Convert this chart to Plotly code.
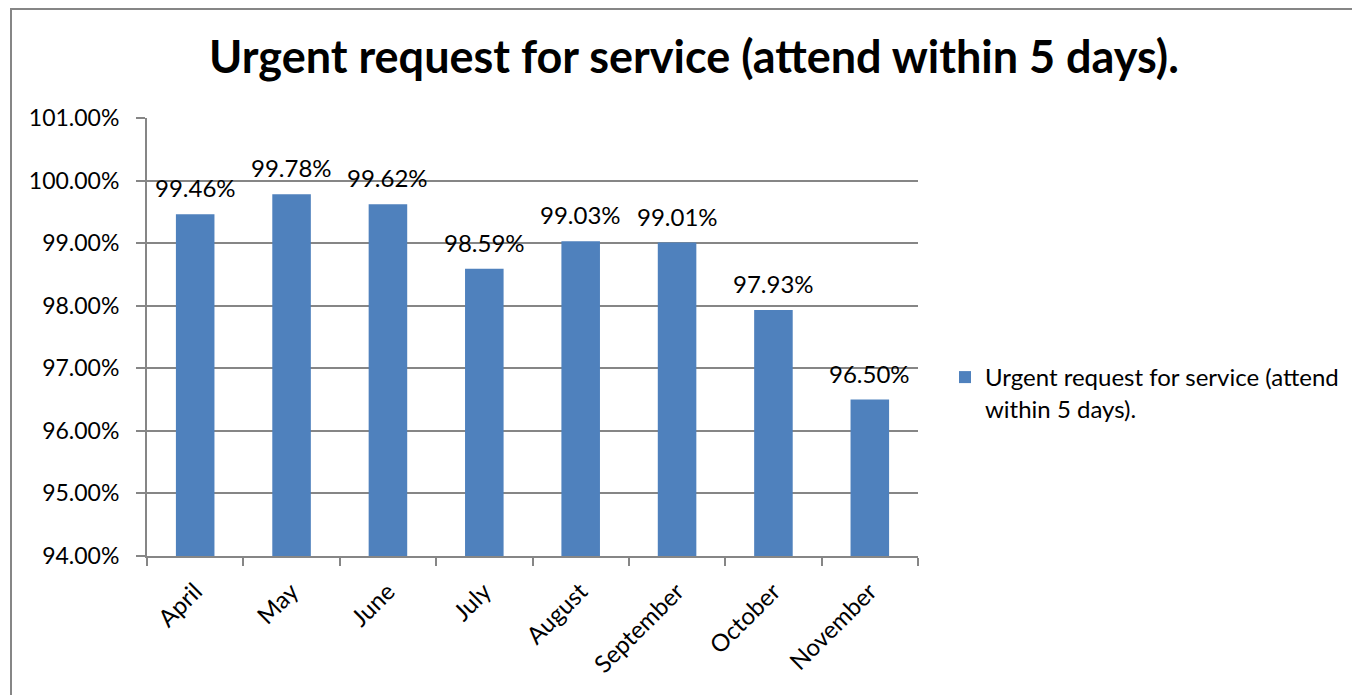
import plotly.graph_objects as go

months = ["April", "May", "June", "July", "August", "September", "October", "November"]
values = [99.46, 99.78, 99.62, 98.59, 99.03, 99.01, 97.93, 96.50]
y_ticks = [94, 95, 96, 97, 98, 99, 100, 101]
series_name = "Urgent request for service (attend within 5 days)."
title_text = "Urgent request for service (attend within 5 days)."

FONT = "Lato, 'Open Sans', sans-serif"
OFF = 8  # default page body margin
W, H = 1360 - OFF, 695 - OFF
L, R, T, B = 147 - OFF, 918 - OFF, 118 - OFF, 556 - OFF

def px_x(p):
    return (p - OFF - L) / (R - L)

def px_y(p):
    return (B - (p - OFF)) / (B - T)

fig = go.Figure()
fig.add_trace(go.Bar(
    x=months, y=values,
    name="Urgent request for service (attend<br>within 5 days).",
    marker=dict(color="#4F81BD", line=dict(width=0)),
    width=0.4,
    showlegend=True,
))

for m, v in zip(months, values):
    fig.add_annotation(x=m, y=v, text=f"{v:.2f}%", showarrow=False,
                       yanchor="bottom", yshift=10,
                       font=dict(family=FONT, size=24, color="#000000"))

fig.update_layout(
    width=W, height=H,
    margin=dict(l=L, r=W - R, t=T, b=H - B),
    paper_bgcolor="white", plot_bgcolor="white",
    font=dict(family=FONT, size=22, color="#000000"),
    title=dict(text="<b>" + title_text + "</b>", x=(694 - OFF) / W, xref="container", xanchor="center",
               y=1 - (57 - OFF) / H, yref="container", yanchor="middle",
               font=dict(family=FONT, size=45, color="#000000")),
    showlegend=True,
    legend=dict(x=px_x(945), xanchor="left", y=px_y(393), yanchor="middle",
                font=dict(family=FONT, size=24, color="#000000"), itemwidth=30,
                valign="top", bgcolor="rgba(0,0,0,0)", borderwidth=0),
    xaxis=dict(
        type="category", tickson="boundaries", ticks="outside", ticklen=8, tickcolor="#868686",
        tickwidth=2, ticklabelstandoff=10,
        showline=True, linecolor="#868686", linewidth=2, showgrid=False,
        tickangle=-45, tickfont=dict(family=FONT, size=24, color="#000000"),
    ),
    yaxis=dict(
        range=[94, 101], tickvals=y_ticks, ticktext=[f"{t:.2f}%" for t in y_ticks],
        ticks="outside", ticklen=9, tickcolor="#868686", tickwidth=2, ticklabelstandoff=12,
        showline=True, linecolor="#868686", linewidth=2,
        showgrid=True, gridcolor="#868686", gridwidth=2, zeroline=False,
        tickfont=dict(family=FONT, size=23, color="#000000"),
    ),
    shapes=[dict(type="rect", xref="paper", yref="paper",
                 x0=px_x(11), x1=px_x(1400),
                 y0=px_y(740), y1=px_y(OFF + 1),
                 line=dict(color="#868686", width=2), fillcolor="rgba(0,0,0,0)", layer="below")],
)

fig.write_html("out.html")
